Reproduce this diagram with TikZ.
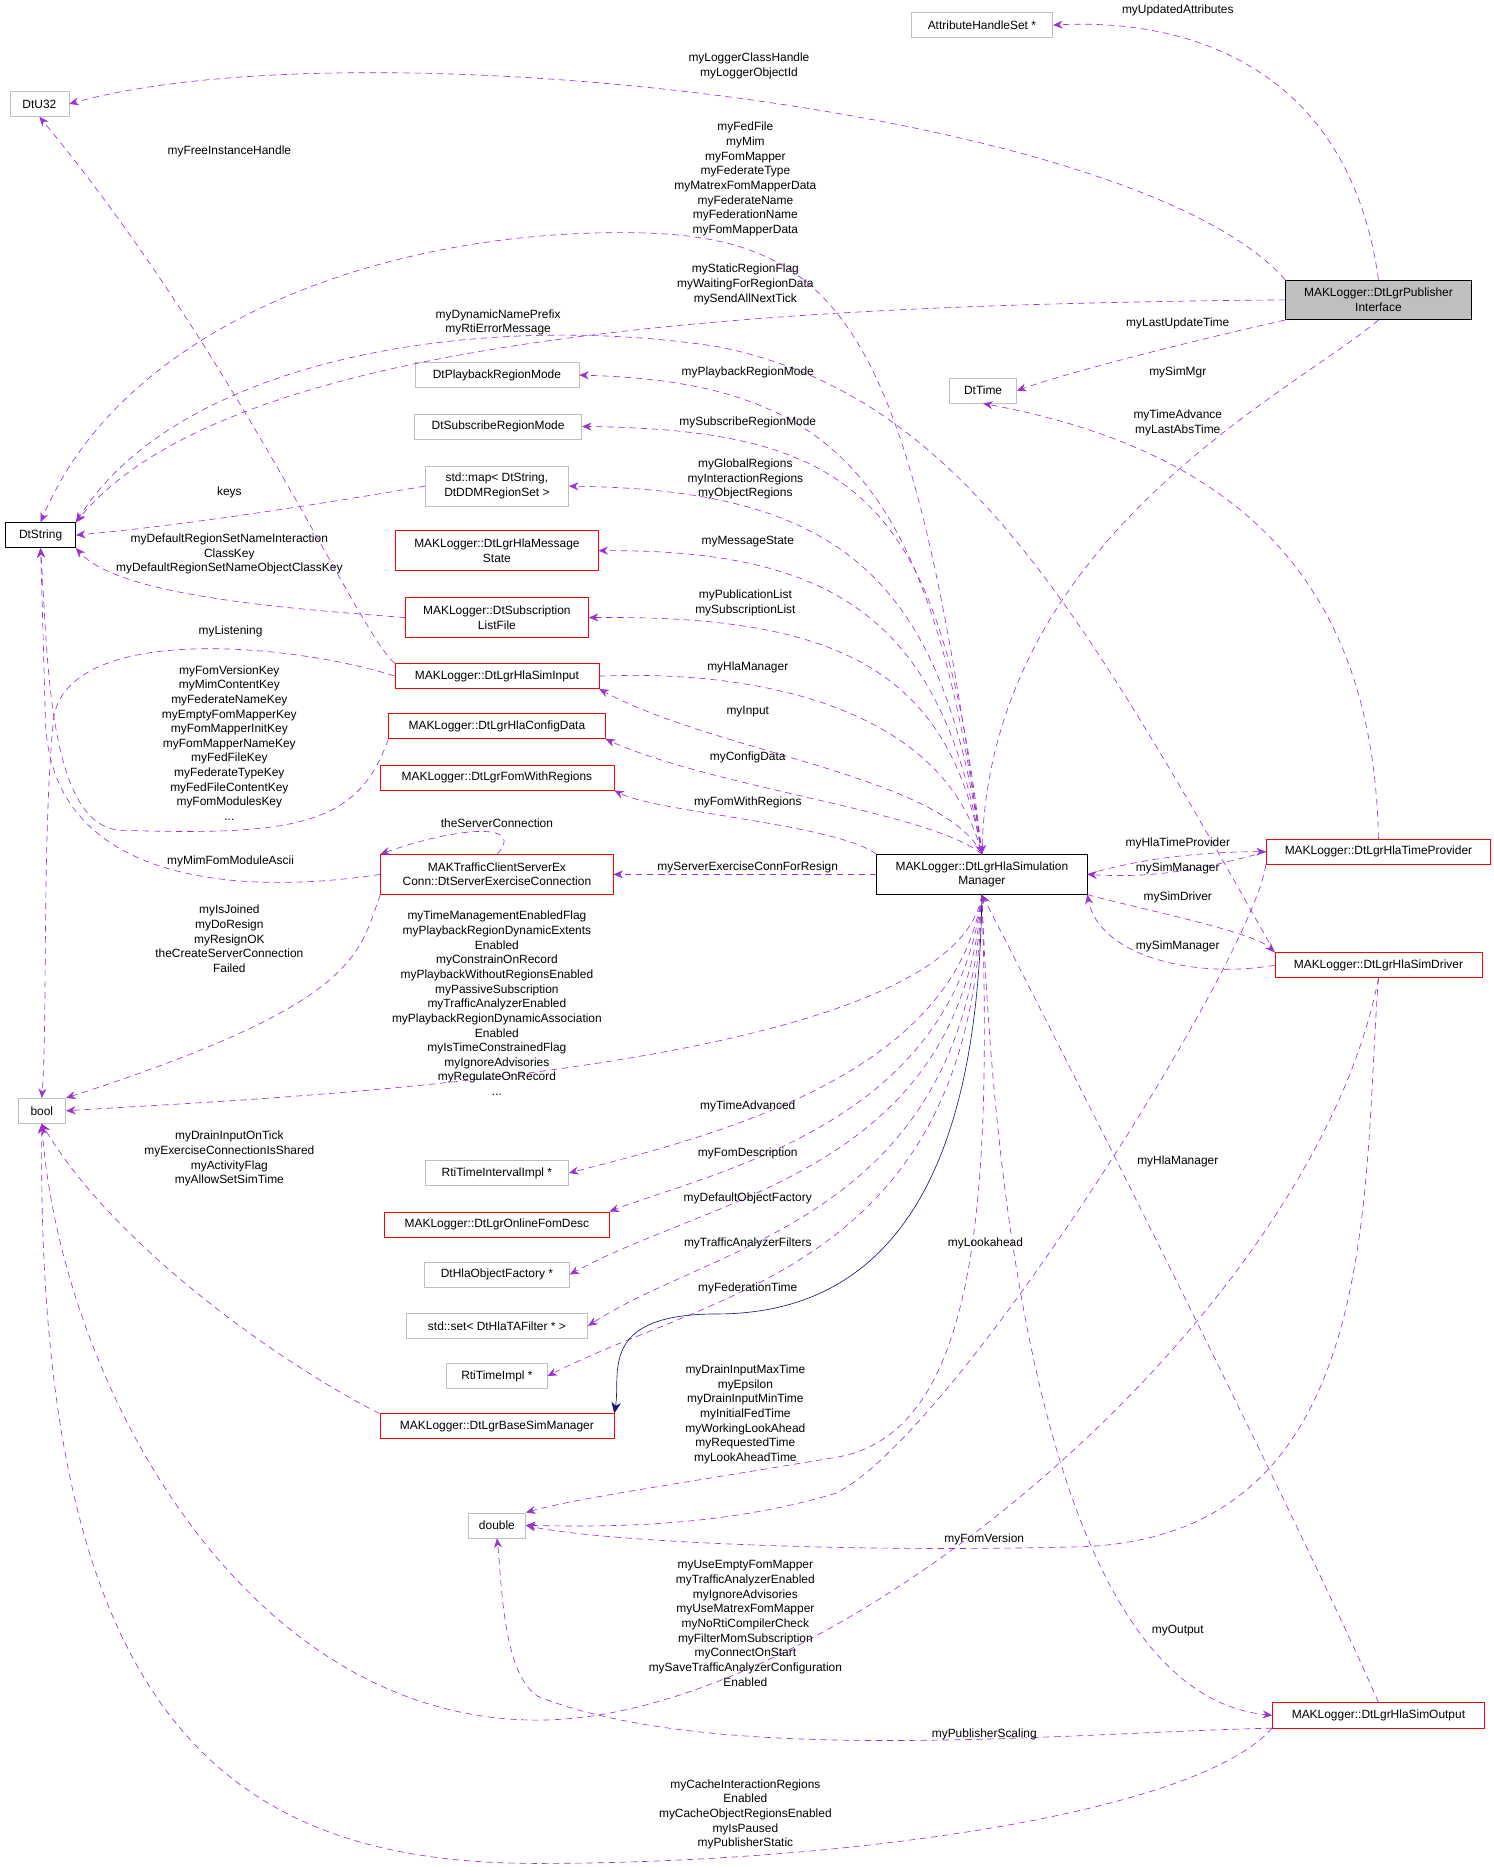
\documentclass[tikz,border=0pt]{standalone}
\usepackage{fontspec}
\setmainfont{Liberation Sans}
\usetikzlibrary{arrows.meta}
\definecolor{ep}{HTML}{9A32CD}
\definecolor{nv}{HTML}{191970}
\begin{document}
\begin{tikzpicture}[x=0.75pt,y=-0.75pt,
  every node/.style={font=\fontsize{7.5}{9.2}\selectfont},
  box/.style={draw,rectangle,inner sep=1pt,minimum height=15.75pt,align=center},
  gb/.style={box,draw=black!25},
  rb/.style={box,draw=red},
  kb/.style={box,draw=black},
  lb/.style={align=center,inner sep=0pt},
  e/.style={draw=ep,dashed,dash pattern=on 4pt off 3pt,-{Stealth[length=6pt,width=5pt]},ep},
  inh/.style={draw=nv,-{Stealth[length=7pt,width=6pt]},nv}]
\useasboundingbox (0,0) rectangle (1250,1563);
% nodes
\node[gb,minimum width=89pt] (ahs) at (822,21) {AttributeHandleSet *};
\node[gb,minimum width=37pt] (u32) at (33,87) {DtU32};
\node[kb,fill=black!25,minimum width=117pt,minimum height=25pt] (pub) at (1154,251) {MAKLogger::DtLgrPublisher\\Interface};
\node[gb,minimum width=42pt] (time) at (823,327) {DtTime};
\node[kb,minimum width=44pt] (str) at (34,448) {DtString};
\node[gb,minimum width=30pt] (bool) at (35,930) {bool};
\node[gb,minimum width=103pt] (pbm) at (416,314) {DtPlaybackRegionMode};
\node[gb,minimum width=105pt] (sbm) at (417,357) {DtSubscribeRegionMode};
\node[gb,minimum width=90pt,minimum height=25pt] (map) at (416,407) {std::map< DtString,\\DtDDMRegionSet >};
\node[rb,minimum width=127pt,minimum height=25pt] (msg) at (416,461) {MAKLogger::DtLgrHlaMessage\\State};
\node[rb,minimum width=115pt,minimum height=25pt] (slf) at (416,517) {MAKLogger::DtSubscription\\ListFile};
\node[rb,minimum width=128pt] (inp) at (416,566) {MAKLogger::DtLgrHlaSimInput};
\node[rb,minimum width=136pt] (cfg) at (416,608) {MAKLogger::DtLgrHlaConfigData};
\node[rb,minimum width=147pt] (fwr) at (416,651) {MAKLogger::DtLgrFomWithRegions};
\node[rb,minimum width=146pt,minimum height=25pt] (srv) at (416,732) {MAKTrafficClientServerEx\\Conn::DtServerExerciseConnection};
\node[kb,minimum width=132pt,minimum height=25pt] (mgr) at (822,732) {MAKLogger::DtLgrHlaSimulation\\Manager};
\node[rb,minimum width=141pt] (tp) at (1154,713) {MAKLogger::DtLgrHlaTimeProvider};
\node[rb,minimum width=130pt] (drv) at (1154,808) {MAKLogger::DtLgrHlaSimDriver};
\node[gb,minimum width=90pt] (rti) at (416,982) {RtiTimeIntervalImpl *};
\node[rb,minimum width=141pt] (ofd) at (416,1025) {MAKLogger::DtLgrOnlineFomDesc};
\node[gb,minimum width=91pt] (hof) at (416,1067) {DtHlaObjectFactory *};
\node[gb,minimum width=114pt] (set) at (416,1110) {std::set< DtHlaTAFilter * >};
\node[gb,minimum width=63pt] (rtt) at (416,1152) {RtiTimeImpl *};
\node[rb,minimum width=147pt] (base) at (416,1194) {MAKLogger::DtLgrBaseSimManager};
\node[gb,minimum width=36pt] (dbl) at (416,1277) {double};
\node[rb,minimum width=133pt] (out) at (1154,1436) {MAKLogger::DtLgrHlaSimOutput};
% edges
\draw[e] (pub.north) .. controls (1130,60) and (1000,15) .. (ahs.east);
\node[lb] (l1) at (986,9) {myUpdatedAttributes};
\draw[e] (pub.north west) .. controls (950,90) and (300,20) .. (u32.east);
\node[lb] (l2) at (627,55) {myLoggerClassHandle\\myLoggerObjectId};
\draw[e] (pub.west) .. controls (700,255) and (200,270) .. (str.north east);
\node[lb] (l3) at (624,238) {myStaticRegionFlag\\myWaitingForRegionData\\mySendAllNextTick};
\draw[e] (pub.south west) .. controls (1000,285) and (900,310) .. (time.east);
\node[lb] (l4) at (986,271) {myLastUpdateTime};
\draw[e] (pub.south) .. controls (1080,330) and (830,450) .. (mgr.north);
\node[lb] (l5) at (986,312) {mySimMgr};
\draw[e] (mgr.north) .. controls (760,250) and (700,190) .. (500,195) .. controls (300,200) and (100,280) .. (str.north);
\node[lb] (l6) at (624,150) {myFedFile\\myMim\\myFomMapper\\myFederateType\\myMatrexFomMapperData\\myFederateName\\myFederationName\\myFomMapperData};
\draw[e] (drv.north west) .. controls (900,500) and (800,330) .. (600,290) .. controls (400,260) and (150,300) .. (str.north east);
\node[lb] (l7) at (417,270) {myDynamicNamePrefix\\myRtiErrorMessage};
\draw[e] (mgr.north) .. controls (780,400) and (700,320) .. (pbm.east);
\node[lb] (l8) at (626,312) {myPlaybackRegionMode};
\draw[e] (mgr.north) .. controls (790,420) and (720,360) .. (sbm.east);
\node[lb] (l9) at (626,354) {mySubscribeRegionMode};
\draw[e] (mgr.north) .. controls (790,480) and (700,410) .. (map.east);
\node[lb] (l10) at (624,401) {myGlobalRegions\\myInteractionRegions\\myObjectRegions};
\draw[e] (map.west) .. controls (250,425) and (150,440) .. (str.east);
\node[lb] (l11) at (192,412) {keys};
\draw[e] (mgr.north) .. controls (790,520) and (700,460) .. (msg.east);
\node[lb] (l12) at (626,453) {myMessageState};
\draw[e] (slf.west) .. controls (250,510) and (100,500) .. (str.south east);
\node[lb] (l13) at (192,464) {myDefaultRegionSetNameInteraction\\ClassKey\\myDefaultRegionSetNameObjectClassKey};
\draw[e] (mgr.north) .. controls (795,560) and (700,515) .. (slf.east);
\node[lb] (l14) at (624,505) {myPublicationList\\mySubscriptionList};
\draw[e] (inp.west) .. controls (250,540) and (60,520) .. (45,600) .. controls (35,700) and (40,850) .. (bool.north);
\node[lb] (l15) at (193,529) {myListening};
\draw[e] (inp.north west) .. controls (300,530) and (200,300) .. (u32.south);
\node[lb] (l16) at (192,127) {myFreeInstanceHandle};
\draw[e] (inp.east) .. controls (650,560) and (790,600) .. (mgr.north);
\node[lb] (l17) at (626,559) {myHlaManager};
\draw[e] (mgr.north) .. controls (790,650) and (600,630) .. (inp.south east);
\node[lb] (l18) at (626,596) {myInput};
\draw[e] (mgr.north) .. controls (780,680) and (600,660) .. (cfg.south east);
\node[lb] (l19) at (626,634) {myConfigData};
\draw[e] (cfg.south west) .. controls (300,690) and (250,700) .. (100,695) .. controls (40,690) and (40,550) .. (str.south);
\node[lb] (l20) at (192,622) {myFomVersionKey\\myMimContentKey\\myFederateNameKey\\myEmptyFomMapperKey\\myFomMapperInitKey\\myFomMapperNameKey\\myFedFileKey\\myFederateTypeKey\\myFedFileContentKey\\myFomModulesKey\\...};
\draw[e] (mgr.north west) .. controls (700,690) and (550,680) .. (fwr.south east);
\node[lb] (l21) at (626,672) {myFomWithRegions};
\draw[e] (srv.north) .. controls (440,690) and (390,690) .. (srv.north west);
\node[lb] (l22) at (416,689) {theServerConnection};
\draw[e] (srv.west) .. controls (200,750) and (40,740) .. (38,600) -- (str.south);
\node[lb] (l23) at (193,721) {myMimFomModuleAscii};
\draw[e] (srv.south west) .. controls (300,800) and (300,840) .. (bool.north east);
\node[lb] (l24) at (192,786) {myIsJoined\\myDoResign\\myResignOK\\theCreateServerConnection\\Failed};
\draw[e] (mgr.west) -- (srv.east);
\node[lb] (l25) at (626,726) {myServerExerciseConnForResign};
\draw[e] (mgr.east) .. controls (950,720) and (1000,713) .. (tp.west);
\node[lb] (l26) at (986,706) {myHlaTimeProvider};
\draw[e] (tp.west) .. controls (1000,730) and (960,735) .. (mgr.east);
\node[lb] (l27) at (986,727) {mySimManager};
\draw[e] (mgr.south east) .. controls (950,760) and (1050,780) .. (drv.north west);
\node[lb] (l28) at (986,751) {mySimDriver};
\draw[e] (drv.west) .. controls (1000,820) and (920,800) .. (mgr.south east);
\node[lb] (l29) at (986,792) {mySimManager};
\draw[e] (tp.north) .. controls (1150,500) and (1050,380) .. (time.south);
\node[lb] (l30) at (986,354) {myTimeAdvance\\myLastAbsTime};
\draw[e] (mgr.south) .. controls (800,900) and (200,920) .. (bool.east);
\node[lb] (l31) at (416,840) {myTimeManagementEnabledFlag\\myPlaybackRegionDynamicExtents\\Enabled\\myConstrainOnRecord\\myPlaybackWithoutRegionsEnabled\\myPassiveSubscription\\myTrafficAnalyzerEnabled\\myPlaybackRegionDynamicAssociation\\Enabled\\myIsTimeConstrainedFlag\\myIgnoreAdvisories\\myRegulateOnRecord\\...};
\draw[e] (mgr.south) .. controls (800,900) and (600,950) .. (rti.east);
\node[lb] (l32) at (626,926) {myTimeAdvanced};
\draw[e] (mgr.south) .. controls (800,940) and (600,980) .. (ofd.north east);
\node[lb] (l33) at (626,966) {myFomDescription};
\draw[e] (mgr.south) .. controls (805,980) and (600,1000) .. (hof.east);
\node[lb] (l34) at (626,1003) {myDefaultObjectFactory};
\draw[e] (mgr.south) .. controls (810,1020) and (600,1040) .. (set.east);
\node[lb] (l35) at (626,1041) {myTrafficAnalyzerFilters};
\draw[e] (mgr.south) .. controls (815,1060) and (600,1080) .. (rtt.east);
\node[lb] (l36) at (626,1079) {myFederationTime};
\draw[inh] (mgr.south) .. controls (820,900) and (790,1100) .. (600,1100) .. controls (500,1100) and (520,1150) .. (base.north east);
\draw[e] (base.north west) .. controls (250,1150) and (100,1050) .. (bool.south);
\node[lb] (l37) at (192,970) {myDrainInputOnTick\\myExerciseConnectionIsShared\\myActivityFlag\\myAllowSetSimTime};
\draw[e] (mgr.south) .. controls (830,1000) and (820,1200) .. (700,1220) .. controls (550,1245) and (480,1255) .. (dbl.north east);
\node[lb] (l38) at (825,1041) {myLookahead};
\draw[e] (tp.south west) .. controls (1050,800) and (800,1200) .. (700,1250) .. controls (600,1280) and (500,1278) .. (dbl.east);
\node[lb] (l39) at (624,1184) {myDrainInputMaxTime\\myEpsilon\\myDrainInputMinTime\\myInitialFedTime\\myWorkingLookAhead\\myRequestedTime\\myLookAheadTime};
\draw[e] (drv.south) .. controls (1140,1000) and (1160,1290) .. (900,1295) .. controls (700,1300) and (500,1290) .. (dbl.east);
\node[lb] (l40) at (824,1289) {myFomVersion};
\draw[e] (drv.south) .. controls (1100,1100) and (700,1440) .. (450,1440) .. controls (200,1440) and (50,1150) .. (bool.south);
\node[lb] (l41) at (624,1359) {myUseEmptyFomMapper\\myTrafficAnalyzerEnabled\\myIgnoreAdvisories\\myUseMatrexFomMapper\\myNoRtiCompilerCheck\\myFilterMomSubscription\\myConnectOnStart\\mySaveTrafficAnalyzerConfiguration\\Enabled};
\draw[e] (mgr.south) .. controls (835,1100) and (900,1420) .. (out.west);
\node[lb] (l42) at (986,1365) {myOutput};
\draw[e] (out.north) .. controls (1100,1300) and (900,900) .. (mgr.south);
\node[lb] (l43) at (986,972) {myHlaManager};
\draw[e] (out.south west) .. controls (900,1450) and (600,1480) .. (450,1420) .. controls (420,1400) and (420,1320) .. (dbl.south);
\node[lb] (l44) at (824,1452) {myPublisherScaling};
\draw[e] (out.south west) .. controls (1000,1520) and (700,1560) .. (450,1560) .. controls (200,1560) and (30,1450) .. (bool.south);
\node[lb] (l45) at (624,1519) {myCacheInteractionRegions\\Enabled\\myCacheObjectRegionsEnabled\\myIsPaused\\myPublisherStatic};
\end{tikzpicture}
\end{document}
